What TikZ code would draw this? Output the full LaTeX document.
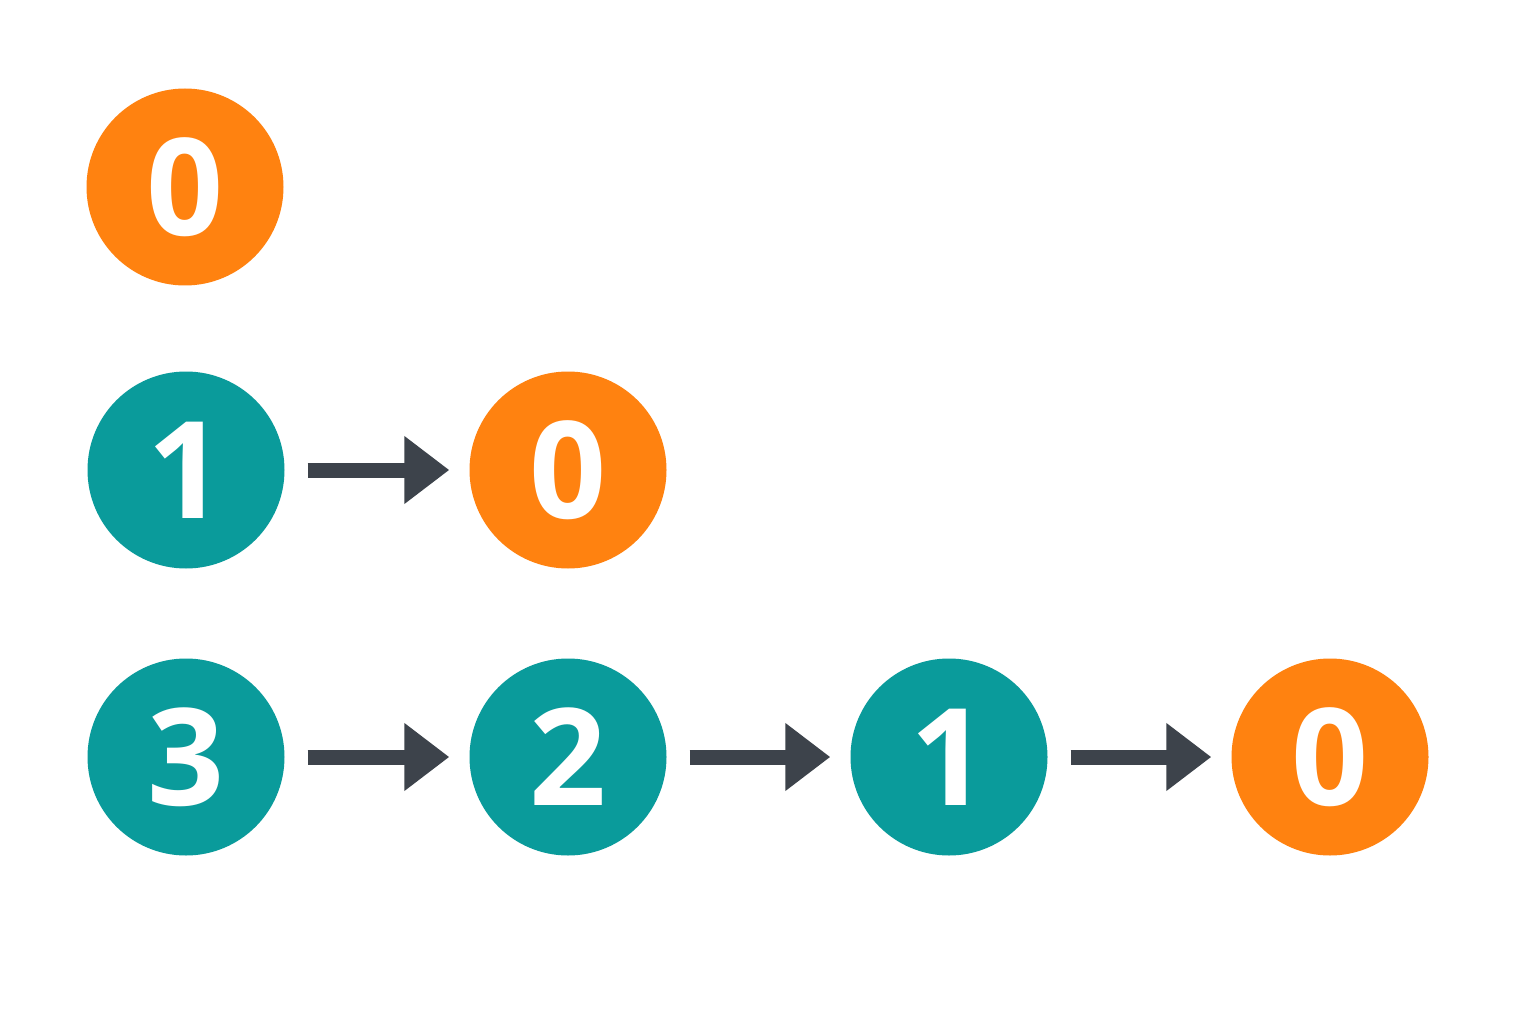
\documentclass[tikz,border=0pt]{standalone}
\usepackage{fontspec}
\setmainfont{Open Sans}
\usetikzlibrary{arrows.meta}
\definecolor{orng}{HTML}{FF8210}
\definecolor{teal2}{HTML}{0A9B9B}
\definecolor{arr}{HTML}{3D434B}
\begin{document}
\begin{tikzpicture}[x=1pt,y=-1pt,
  n/.style={circle,minimum size=197pt,inner sep=0pt,text=white,font=\fontsize{135}{135}\selectfont\bfseries},
  o/.style={n,fill=orng},t/.style={n,fill=teal2},
  a/.style={draw=arr,line width=15pt,-{Triangle[length=45pt,width=65pt]},shorten <=23pt,shorten >=20pt}]
\useasboundingbox (0,0) rectangle (1536,1024);
\fill[white] (0,0) rectangle (1536,1024);
\node[o] (r1) at (185,187) {0};
\node[t] (r2a) at (186,470) {1};
\node[o] (r2b) at (568,470) {0};
\node[t] (r3a) at (186,757) {3};
\node[t] (r3b) at (568,757) {2};
\node[t] (r3c) at (949,757) {1};
\node[o] (r3d) at (1330,757) {0};
\draw[a] (r2a) -- (r2b);
\draw[a] (r3a) -- (r3b);
\draw[a] (r3b) -- (r3c);
\draw[a] (r3c) -- (r3d);
\end{tikzpicture}
\end{document}
